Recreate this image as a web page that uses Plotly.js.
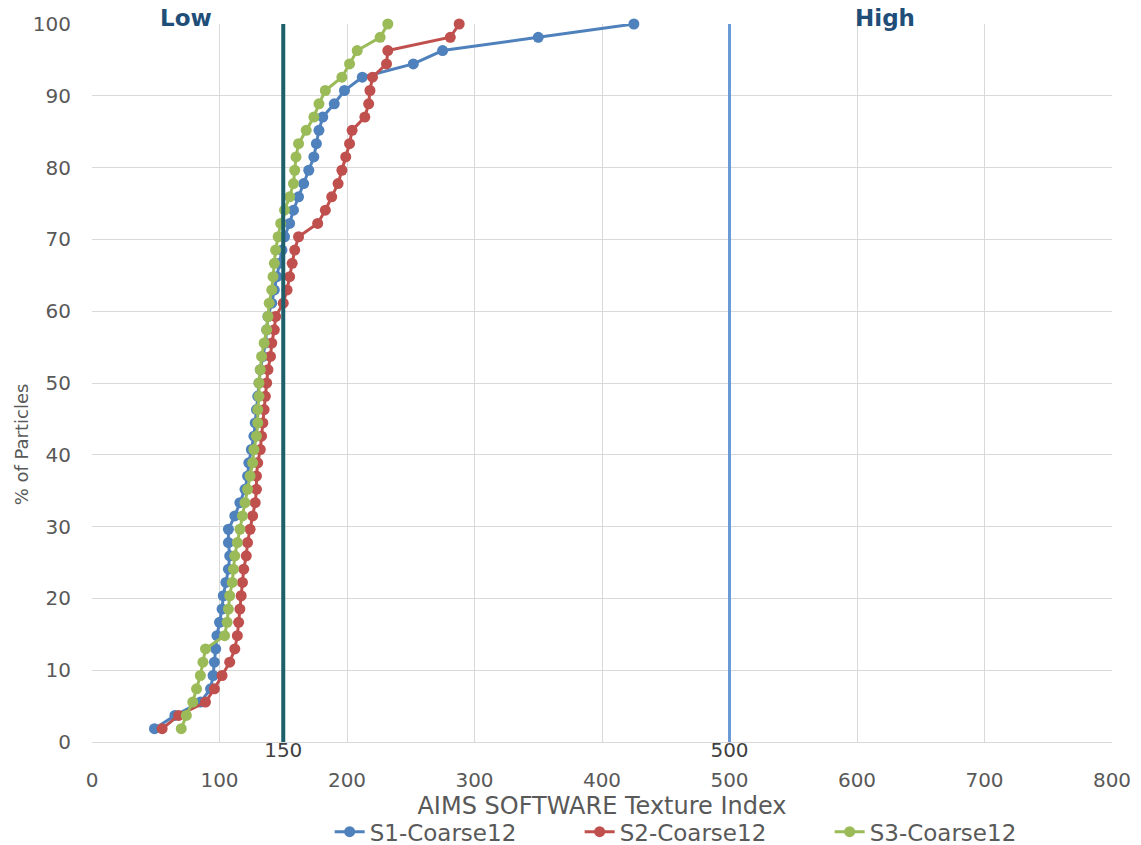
<!DOCTYPE html>
<html>
<head>
<meta charset="utf-8">
<script src="https://cdn.plot.ly/plotly-3.0.1.min.js"></script>
<style>html,body{margin:0;padding:0;background:#fff;}#chart{width:1141px;height:845px;}</style>
</head>
<body>
<div id="chart"></div>
<script>
// cumulative % of particles
const yPct = [1.85, 3.70, 5.56, 7.41, 9.26, 11.11, 12.96, 14.81, 16.67, 18.52,
  20.37, 22.22, 24.07, 25.93, 27.78, 29.63, 31.48, 33.33, 35.19, 37.04,
  38.89, 40.74, 42.59, 44.44, 46.30, 48.15, 50.00, 51.85, 53.70, 55.56,
  57.41, 59.26, 61.11, 62.96, 64.81, 66.67, 68.52, 70.37, 72.22, 74.07,
  75.93, 77.78, 79.63, 81.48, 83.33, 85.19, 87.04, 88.89, 90.74, 92.59,
  94.44, 96.30, 98.15, 100];

const s1X = [49, 65, 85, 93, 95, 96, 97, 98, 100, 102,
  103, 105, 107, 108, 107, 107, 112, 116, 120, 122,
  123, 125, 127, 128, 129, 130, 131, 132, 134, 136,
  137, 138, 141, 143, 145, 147, 149, 151, 155, 158,
  162, 166, 170, 174, 176, 178, 181, 190, 198, 212,
  252, 275, 350, 425];

const s2X = [55, 68, 89, 96, 102, 108, 112, 114, 115, 116,
  117, 118, 119, 121, 122, 124, 126, 128, 129, 129,
  130, 132, 133, 134, 135, 136, 137, 138, 140, 141,
  143, 144, 150, 153, 155, 157, 159, 162, 177, 183,
  188, 193, 196, 199, 202, 204, 214, 217, 218, 220,
  231, 232, 281, 288];

const s3X = [70, 74, 79, 82, 85, 87, 89, 104, 106, 107,
  108, 110, 111, 112, 114, 116, 118, 120, 122, 124,
  126, 127, 129, 130, 130, 131, 131, 132, 133, 135,
  137, 138, 139, 141, 142, 143, 144, 146, 148, 151,
  155, 158, 159, 160, 162, 168, 174, 178, 183, 196,
  202, 208, 226, 232];

const seriesNames = ["S1-Coarse12", "S2-Coarse12", "S3-Coarse12"];
const seriesColors = ["#4f81bd", "#c0504d", "#9bbb59"];

const lowLimit = 150;
const highLimit = 500;
const limitY = [0, 100];
const regionLabels = ["Low", "High"];
const regionLabelX = [74, 622];

const xTicks = [0, 100, 200, 300, 400, 500, 600, 700, 800];
const yTicks = [0, 10, 20, 30, 40, 50, 60, 70, 80, 90, 100];

const FONT = "DejaVu Sans, Liberation Sans, Arial, sans-serif";
const TXT = "#595959";

const seriesX = [s1X, s2X, s3X];
const traces = [];
seriesX.forEach((xs, i) => {
  traces.push({
    x: xs, y: yPct, type: "scatter", mode: "lines+markers",
    name: seriesNames[i],
    line: {color: seriesColors[i], width: 3},
    marker: {color: seriesColors[i], size: 11},
    cliponaxis: false
  });
});
traces.push({
  x: [lowLimit, lowLimit], y: limitY, type: "scatter", mode: "lines+text",
  line: {color: "#1e5f6c", width: 4}, showlegend: false,
  text: [String(lowLimit), ""], textposition: "bottom center",
  textfont: {family: FONT, size: 20, color: "#404040"}, cliponaxis: false, hoverinfo: "skip"
});
traces.push({
  x: [highLimit, highLimit], y: limitY, type: "scatter", mode: "lines+text",
  line: {color: "#6a9bd6", width: 3}, showlegend: false,
  text: [String(highLimit), ""], textposition: "bottom center",
  textfont: {family: FONT, size: 20, color: "#404040"}, cliponaxis: false, hoverinfo: "skip"
});

const annotations = regionLabels.map((t, i) => ({
  x: regionLabelX[i], y: 1.009, xref: "x", yref: "paper",
  text: "<b>" + t + "</b>", showarrow: false, yanchor: "middle", xanchor: "center",
  font: {family: FONT, size: 23, color: "#1f4e79"}
}));
annotations.push({
  x: -0.069, xref: "paper", y: 0.414, yref: "paper",
  text: "% of Particles", textangle: -90, showarrow: false,
  xanchor: "center", yanchor: "middle",
  font: {family: FONT, size: 18, color: TXT}
});

const layout = {
  width: 1141, height: 845,
  margin: {l: 92, r: 29, t: 24, b: 103, autoexpand: false},
  paper_bgcolor: "#ffffff", plot_bgcolor: "#ffffff",
  font: {family: FONT, color: TXT},
  showlegend: true,
  xaxis: {
    range: [0, 800], tickvals: xTicks, ticktext: xTicks.map(String),
    showgrid: true, gridcolor: "#d9d9d9", gridwidth: 1,
    zeroline: false, showline: true, linecolor: "#d9d9d9", linewidth: 1,
    ticks: "", tickfont: {family: FONT, size: 20, color: TXT},
    ticklabelstandoff: 20, automargin: false,
    title: {text: "AIMS SOFTWARE Texture Index", font: {family: FONT, size: 24, color: TXT}, standoff: 2}
  },
  yaxis: {
    range: [0, 100], tickvals: yTicks, ticktext: yTicks.map(String),
    showgrid: true, gridcolor: "#d9d9d9", gridwidth: 1,
    zeroline: false, showline: false, automargin: false,
    ticks: "", tickfont: {family: FONT, size: 20, color: TXT},
    ticklabelstandoff: 20
  },
  legend: {
    orientation: "h", x: 0.233, xanchor: "left", y: -0.125, yanchor: "middle",
    font: {family: FONT, size: 23, color: TXT},
    entrywidth: 205, entrywidthmode: "pixels", bgcolor: "rgba(0,0,0,0)"
  },
  annotations: annotations
};

Plotly.newPlot("chart", traces, layout, {displayModeBar: false, staticPlot: true});
</script>
</body>
</html>
